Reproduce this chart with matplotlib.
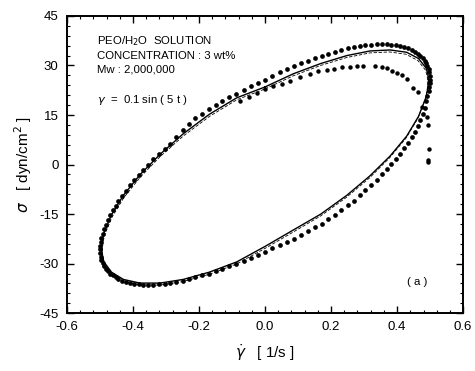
"""Stress vs. shear-rate loop for PEO/H2O solution, panel (a)."""
import matplotlib
matplotlib.use("Agg")
import matplotlib.pyplot as plt
from matplotlib.ticker import MultipleLocator

plt.rcParams["font.family"] = ["Liberation Sans", "DejaVu Sans"]
plt.rcParams["mathtext.fontset"] = "dejavusans"

loop_rate = [0.000, 0.022, 0.044, 0.065, 0.087, 0.108, 0.129, 0.150, 0.171, 0.191,
             0.211, 0.231, 0.250, 0.269, 0.287, 0.304, 0.321, 0.338, 0.354, 0.369,
             0.383, 0.397, 0.410, 0.422, 0.433, 0.444, 0.453, 0.462, 0.470, 0.477,
             0.483, 0.488, 0.492, 0.496, 0.498, 0.500, 0.500, 0.500, 0.498, 0.496,
             0.492, 0.488, 0.483, 0.477, 0.470, 0.462, 0.453, 0.444, 0.433, 0.422,
             0.410, 0.397, 0.383, 0.369, 0.354, 0.338, 0.321, 0.304, 0.287, 0.269,
             0.250, 0.231, 0.211, 0.191, 0.171, 0.150, 0.129, 0.108, 0.087, 0.065,
             0.044, 0.022, 0.000, -0.022, -0.044, -0.065, -0.087, -0.108, -0.129, -0.150,
             -0.171, -0.191, -0.211, -0.231, -0.250, -0.269, -0.287, -0.304, -0.321, -0.338,
             -0.354, -0.369, -0.383, -0.397, -0.410, -0.422, -0.433, -0.444, -0.453, -0.462,
             -0.470, -0.477, -0.483, -0.488, -0.492, -0.496, -0.498, -0.500, -0.500, -0.500,
             -0.498, -0.496, -0.492, -0.488, -0.483, -0.477, -0.470, -0.462, -0.453, -0.444,
             -0.433, -0.422, -0.410, -0.397, -0.383, -0.369, -0.354, -0.338, -0.321, -0.304,
             -0.287, -0.269, -0.250, -0.231, -0.211, -0.191, -0.171, -0.150, -0.129, -0.108,
             -0.087, -0.065, -0.044, -0.022]
loop_stress = [25.7, 26.8, 27.9, 28.9, 29.8, 30.7, 31.5, 32.3, 33.0, 33.6,
               34.2, 34.7, 35.2, 35.5, 35.8, 36.1, 36.3, 36.4, 36.4, 36.4,
               36.3, 36.1, 35.8, 35.5, 35.2, 34.7, 34.2, 33.6, 33.0, 32.3,
               31.5, 30.7, 29.8, 28.9, 27.9, 26.8, 25.7, 24.6, 23.4, 22.2,
               20.9, 19.1, 17.2, 15.3, 13.4, 11.7, 10.0, 8.2, 6.4, 4.9,
               3.3, 1.8, 0.2, -1.4, -3.0, -4.6, -6.2, -7.8, -9.3, -10.9,
               -12.4, -13.9, -15.3, -16.6, -17.9, -19.0, -20.2, -21.4, -22.4, -23.4,
               -24.4, -25.4, -26.4, -27.4, -28.4, -29.3, -30.1, -30.8, -31.5, -32.3,
               -33.0, -33.6, -34.2, -34.7, -35.2, -35.5, -35.8, -36.1, -36.3, -36.4,
               -36.4, -36.4, -36.3, -36.1, -35.8, -35.5, -35.2, -34.7, -34.2, -33.6,
               -33.0, -32.3, -31.5, -30.7, -29.8, -28.9, -27.9, -26.8, -25.7, -24.6,
               -23.4, -22.2, -20.9, -19.6, -18.2, -16.8, -15.4, -13.9, -12.5, -11.0,
               -9.4, -7.9, -6.3, -4.8, -3.2, -1.6, 0.0, 1.6, 3.2, 4.8,
               6.3, 8.4, 10.4, 12.2, 14.0, 15.4, 16.9, 18.0, 19.2, 20.4,
               21.4, 22.6, 23.7, 24.8]

# start-up points that fall inside the loop (upper right)
start_rate = [-0.076, -0.050, -0.025, 0.000, 0.024, 0.050, 0.076, 0.106, 0.135, 0.160,
              0.187, 0.210, 0.233, 0.258, 0.278, 0.298, 0.333, 0.353, 0.369, 0.384,
              0.399, 0.414, 0.429, 0.449, 0.464, 0.475, 0.490, 0.494, 0.497, 0.494,
              0.494]
start_stress = [19.1, 20.4, 21.8, 22.8, 23.7, 24.5, 25.2, 26.4, 27.4, 28.2,
                28.5, 28.8, 29.4, 29.6, 29.7, 29.7, 29.7, 29.4, 29.1, 28.2,
                27.8, 27.0, 26.0, 23.3, 22.1, 17.3, 14.5, 12.1, 4.8, 1.5,
                0.8]

# model curves
fit_rate = [0.000, 0.086, 0.169, 0.248, 0.318, 0.379, 0.429, 0.465, 0.488, 0.493,
            0.495, 0.493, 0.488, 0.465, 0.429, 0.379, 0.318, 0.248, 0.169, 0.086,
            0.000, -0.086, -0.169, -0.248, -0.318, -0.379, -0.429, -0.465, -0.488, -0.493,
            -0.495, -0.493, -0.488, -0.465, -0.429, -0.379, -0.318, -0.248, -0.169, -0.086,
            0.000]
fit_stress = [23.5, 27.5, 30.6, 33.0, 34.4, 34.7, 34.0, 32.1, 29.2, 27.4,
              25.5, 23.1, 20.5, 14.6, 8.6, 2.6, -3.4, -9.3, -15.0, -19.8,
              -24.8, -29.5, -32.6, -34.8, -35.9, -35.9, -34.8, -32.6, -29.5, -27.6,
              -25.5, -23.1, -20.7, -15.2, -9.3, -3.1, 3.1, 9.3, 15.2, 20.2,
              23.5]
fit2_rate = [0.000, 0.086, 0.168, 0.247, 0.317, 0.377, 0.427, 0.463, 0.486, 0.491,
             0.493, 0.491, 0.486, 0.463, 0.427, 0.377, 0.317, 0.247, 0.168, 0.086,
             0.000, -0.086, -0.168, -0.247, -0.317, -0.377, -0.427, -0.463, -0.486, -0.491,
             -0.493, -0.491, -0.486, -0.463, -0.427, -0.377, -0.317, -0.247, -0.168, -0.086,
             0.000]
fit2_stress = [22.9, 26.9, 30.0, 32.4, 33.8, 34.1, 33.4, 31.5, 28.6, 26.8,
               24.9, 22.5, 19.9, 14.0, 8.0, 2.0, -4.0, -9.9, -15.6, -20.4,
               -25.4, -30.1, -33.2, -35.4, -36.5, -36.5, -35.4, -33.2, -30.1, -28.2,
               -26.1, -23.7, -21.3, -15.8, -9.9, -3.7, 2.5, 8.7, 14.6, 19.6,
               22.9]

fig = plt.figure(figsize=(4.75, 3.71), dpi=100)
ax = fig.add_axes([0.141, 0.156, 0.834, 0.801])

ax.plot(fit_rate, fit_stress, color="black", lw=1.0)
ax.plot(fit2_rate, fit2_stress, color="black", lw=0.6, ls=(0, (4, 2)))
ax.plot(loop_rate, loop_stress, "o", color="black", ms=3.4, mew=0)
ax.plot(start_rate, start_stress, "o", color="black", ms=3.2, mew=0)

ax.set_xlim(-0.6, 0.6)
ax.set_ylim(-45, 45)
ax.xaxis.set_minor_locator(MultipleLocator(0.04))
ax.yaxis.set_minor_locator(MultipleLocator(3))
ax.set_xticks([-0.6, -0.4, -0.2, 0.0, 0.2, 0.4, 0.6])
ax.set_xticklabels(["-0.6", "-0.4", "-0.2", "0.0", "0.2", "0.4", "0.6"])
ax.set_yticks([-45, -30, -15, 0, 15, 30, 45])
ax.set_yticklabels(["-45", "-30", "-15", "0", "15", "30", "45"])
ax.tick_params(which="both", direction="in", top=True, right=True, labelsize=9.5)
ax.tick_params(which="major", length=5, width=1.0, pad=6)
ax.tick_params(which="minor", length=2.5, width=0.8)
for s in ax.spines.values():
    s.set_linewidth(1.4)

ax.set_xlabel(r"$\dot{\gamma}$   [ 1/s ]", fontsize=11, labelpad=6)
ax.set_ylabel(r"$\sigma$   [ dyn/cm$^2$ ]", fontsize=11, labelpad=4)

ax.text(-0.51, 37.3, "PEO/H$_2$O  SOLUTION", fontsize=8.2, va="center")
ax.text(-0.51, 33.0, "CONCENTRATION : 3 wt%", fontsize=8.2, va="center")
ax.text(-0.51, 28.8, "Mw : 2,000,000", fontsize=8.2, va="center")
ax.text(-0.51, 19.4, r"$\gamma$  =  0.1 sin ( 5 t )", fontsize=8.2, va="center")
ax.text(0.46, -35.5, "( a )", fontsize=8.2, va="center", ha="center")

fig.savefig("out.png", dpi=100)
